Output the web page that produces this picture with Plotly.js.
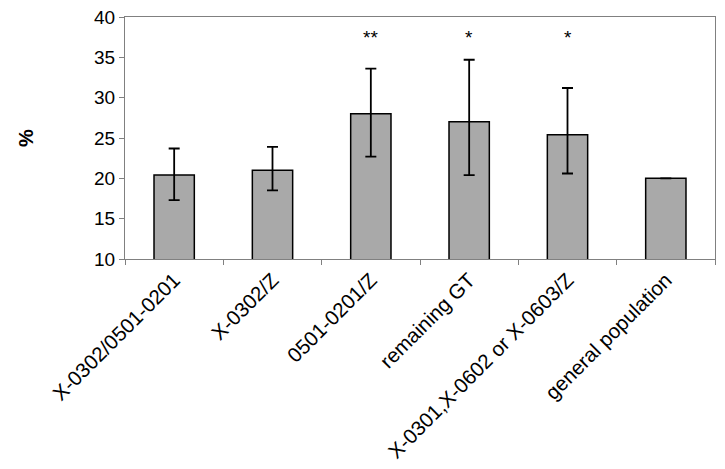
<!DOCTYPE html>
<html>
<head>
<meta charset="utf-8">
<script src="https://cdn.plot.ly/plotly-3.0.1.min.js"></script>
<style>
  body { margin: 0; background: #fff; }
  #chart { width: 725px; height: 469px; }
</style>
</head>
<body>
<div id="chart"></div>
<script>
const groups = ["X-0302/0501-0201", "X-0302/Z", "0501-0201/Z", "remaining GT", "X-0301,X-0602 or X-0603/Z", "general population"];
const percents = [20.4, 21.0, 28.0, 27.0, 25.4, 20.0];
// no error bar on the general population bar
const errUp = [3.3, 2.9, 5.6, 7.7, 5.8, null];
const errDown = [3.1, 2.5, 5.3, 6.6, 4.8, null];
const marks = ["", "", "**", "*", "*", ""];
const markLevel = 37.5;

const bars = {
  x: groups,
  y: percents,
  type: "bar",
  width: 0.41,
  marker: { color: "#a9a9a9", line: { color: "#000", width: 1.5 } },
  error_y: { type: "data", symmetric: false, array: errUp, arrayminus: errDown,
             color: "#000", thickness: 1.8, width: 5.5 },
  hoverinfo: "none"
};

let annotations = [];
for (let i = 0; i < groups.length; i++) {
  if (marks[i] !== "") {
    annotations.push({ x: groups[i], y: markLevel, text: marks[i], showarrow: false,
                       font: { family: "Liberation Sans, Arial, sans-serif", size: 19, color: "#000" } });
  }
}

const layout = {
  width: 725, height: 469,
  margin: { l: 125, r: 10, t: 17, b: 210 },
  paper_bgcolor: "#fff", plot_bgcolor: "#fff",
  showlegend: false,
  font: { family: "Liberation Sans, Arial, sans-serif", color: "#000" },
  xaxis: {
    tickangle: -45, tickfont: { size: 20.5 },
    showline: true, mirror: true, linecolor: "#808080", linewidth: 1,
    ticks: "outside", tickson: "boundaries", ticklen: 5, tickcolor: "#808080",
    showgrid: false, fixedrange: true
  },
  yaxis: {
    range: [10, 40], dtick: 5, tickfont: { size: 19 },
    showline: true, mirror: true, linecolor: "#808080", linewidth: 1,
    ticks: "outside", ticklen: 5, tickcolor: "#808080",
    showgrid: false, zeroline: false, fixedrange: true,
    title: { text: "<b>%</b>", font: { size: 20 }, standoff: 55 }
  },
  annotations: annotations
};

Plotly.newPlot("chart", [bars], layout, { displayModeBar: false, staticPlot: true });
</script>
</body>
</html>
